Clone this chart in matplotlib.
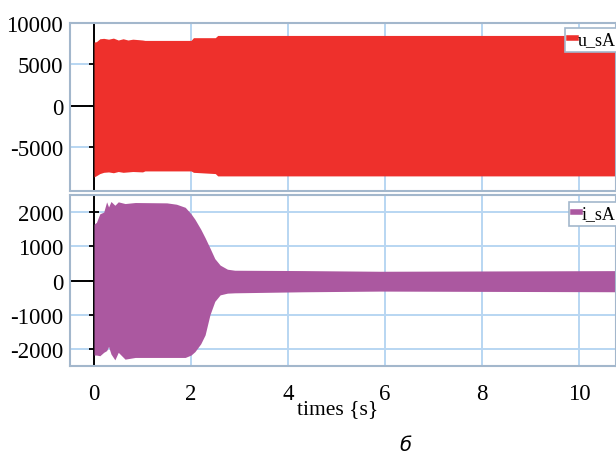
import numpy as np
import matplotlib
matplotlib.use("Agg")
import matplotlib.pyplot as plt

plt.rcParams["axes.unicode_minus"] = False

# envelope of u_sA (upper / lower)
u_t = [0, 0.05, 0.12, 0.2, 0.3, 0.4, 0.5, 0.6, 0.7, 0.8, 1.0, 1.05, 2.0, 2.05, 2.5, 2.55, 11]
u_hi = [7700, 7750, 8100, 8150, 8050, 8180, 7950, 8100, 7950, 8050, 7950, 7900, 7900, 8230, 8230, 8500, 8500]
u_lo = [-8550, -8400, -8150, -8000, -7950, -8050, -7900, -8000, -7950, -7900, -7950, -7830, -7830, -8000, -8150, -8430, -8430]

# envelope of i_sA
i_t = [0, 0.05, 0.12, 0.2, 0.26, 0.3, 0.35, 0.43, 0.5, 0.64, 0.85, 1.5, 1.7, 1.88, 2.0,
       2.08, 2.2, 2.29, 2.39, 2.49, 2.6, 2.75, 2.9, 4.3, 5.9, 11]
i_hi = [1650, 1700, 1950, 2000, 2300, 2150, 2310, 2200, 2300, 2250, 2280, 2270, 2230, 2140, 1950,
        1790, 1500, 1250, 950, 640, 450, 330, 300, 290, 270, 290]
i_lo = [-2180, -2180, -2200, -2100, -2050, -1930, -2150, -2320, -2100, -2300, -2250, -2250, -2250, -2250, -2180,
        -2080, -1850, -1590, -1000, -610, -420, -370, -360, -330, -310, -330]

x_ticks = [0, 2, 4, 6, 8, 10]
u_ticks = [10000, 5000, 0, -5000]
i_ticks = [2000, 1000, 0, -1000, -2000]

red = "#ee302c"
purple = "#ab58a0"
frame = "#a3b7cc"
gridc = "#b8d6f2"

fig = plt.figure(figsize=(6.16, 4.56), dpi=100)
ax1 = fig.add_axes([70 / 616, 1 - 192 / 456, 546 / 616, 168 / 456])
ax2 = fig.add_axes([70 / 616, 1 - 367 / 456, 546 / 616, 171 / 456])

serif = "Liberation Serif"


def style(ax, yticks, ylim):
    ax.set_xlim(-0.495, 10.76)
    ax.set_ylim(*ylim)
    ax.set_xticks(x_ticks)
    ax.set_yticks(yticks)
    ax.grid(True, color=gridc, lw=1.4)
    ax.set_axisbelow(True)
    for s in ax.spines.values():
        s.set_color(frame)
        s.set_linewidth(1.5)
    ax.tick_params(length=0, labelsize=16.5, pad=5)
    for lab in ax.get_yticklabels() + ax.get_xticklabels():
        lab.set_fontfamily(serif)
    ax.axhline(0, color="black", lw=1.4, zorder=1.5)
    ax.axvline(0, color="black", lw=1.4, zorder=1.5)
    ax.plot(np.zeros(len(yticks)), yticks, ls="none", marker="_", ms=7,
            mew=1.3, color="black", zorder=1.6)


style(ax1, u_ticks, (-10250, 10000))
ax1.fill_between(u_t, u_lo, u_hi, color=red, lw=0, zorder=2, label="u_sA")
ax1.tick_params(labelbottom=False)

style(ax2, i_ticks, (-2500, 2500))
ax2.fill_between(i_t, i_lo, i_hi, color=purple, lw=0, zorder=2, label="i_sA")
ax2.tick_params(axis="x", pad=12)
ax2.set_xlabel("times {s}", fontsize=15.5, fontfamily=serif)
ax2.xaxis.set_label_coords((338 - 70) / 546, (367 - 410) / 171)
ax2.xaxis.label.set_va("center")

for ax, color, anchor in [(ax1, red, ((565 - 70) / 546, (192 - 29) / 168)),
                          (ax2, purple, ((569 - 70) / 546, (367 - 203) / 171))]:
    h = [plt.Line2D([], [], color=color, lw=4)]
    leg = ax.legend(h, [ax.collections[-1].get_label()], loc="upper left",
                    bbox_to_anchor=anchor, borderaxespad=0, fancybox=False,
                    framealpha=1, handlelength=0.4, handletextpad=0.1,
                    borderpad=0.2, prop={"family": serif, "size": 13})
    leg.get_frame().set_edgecolor(frame)
    leg.get_frame().set_linewidth(1.2)
    leg.set_zorder(5)

fig.text(405 / 616, 1 - 455 / 456, "б", fontsize=14, style="italic",
         ha="center", va="bottom")

fig.savefig("out.png", dpi=100)
